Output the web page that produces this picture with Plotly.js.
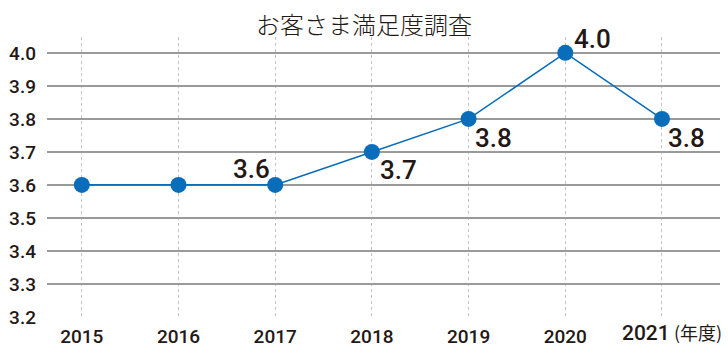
<!DOCTYPE html>
<html>
<head>
<meta charset="utf-8">
<script src="https://cdn.plot.ly/plotly-3.0.1.min.js"></script>
<style>html,body{margin:0;padding:0;background:#fff}#chart{width:728px;height:364px}</style>
</head>
<body>
<div id="chart"></div>
<script>
const years = [2015, 2016, 2017, 2018, 2019, 2020, 2021];
const scores = [3.6, 3.6, 3.6, 3.7, 3.8, 4.0, 3.8];
const labelText = ['', '', '3.6', '3.7', '3.8', '4.0', '3.8'];
const labelShiftX = [0, 0, -24, 27, 25, 27, 25];
const labelShiftY = [0, 0, 16, -18, -19, 14, -19];
const yTicks = [3.2, 3.3, 3.4, 3.5, 3.6, 3.7, 3.8, 3.9, 4.0];
const yTickText = ['3.2', '3.3', '3.4', '3.5', '3.6', '3.7', '3.8', '3.9', '4.0'];
const xTickText = ['2015', '2016', '2017', '2018', '2019', '2020', '2021'];
const unitLabel = '(年度)';
const titleText = 'お客さま満足度調査';

const blue = '#0a6dba';
const ink = '#231815';
const numFont = 'Roboto, "DejaVu Sans Condensed", sans-serif';
const jpFont = '"Noto Sans CJK JP", sans-serif';

const lastIdx = years.length - 1;
const shownTickText = xTickText.map((t, i) => i === lastIdx ? '' : t);

const annotations = [];
years.forEach((yr, i) => {
  if (!labelText[i]) return;
  annotations.push({
    x: yr, y: scores[i], xref: 'x', yref: 'y',
    text: labelText[i], showarrow: false,
    xshift: labelShiftX[i], yshift: labelShiftY[i],
    font: {family: numFont, size: 26, color: ink, weight: 500}
  });
});
// last tick label plus the unit, laid out together as in the reference
annotations.push({
  x: years[lastIdx], y: 3.2, xref: 'x', yref: 'y',
  text: xTickText[lastIdx], showarrow: false, xanchor: 'right', yanchor: 'middle',
  xshift: 10, yshift: -16,
  font: {family: numFont, size: 21, color: ink, weight: 500}
});
annotations.push({
  x: years[lastIdx], y: 3.2, xref: 'x', yref: 'y',
  text: unitLabel, showarrow: false, xanchor: 'left', yanchor: 'middle',
  xshift: 10, yshift: -15,
  font: {family: jpFont, size: 18, color: ink}
});

const trace = {
  x: years, y: scores, type: 'scatter', mode: 'lines+markers',
  line: {color: blue, width: 1.6},
  marker: {color: blue, size: 16},
  cliponaxis: false, hoverinfo: 'skip'
};

const layout = {
  width: 728, height: 364,
  margin: {l: 47, r: 8, t: 37, b: 47},
  paper_bgcolor: '#fff', plot_bgcolor: '#fff',
  showlegend: false,
  title: {text: titleText, x: 0.5, xref: 'container', xanchor: 'center',
    y: 0.93, yref: 'container', yanchor: 'middle',
    font: {family: jpFont, size: 24, color: ink, weight: 300}},
  xaxis: {
    range: [2014.64, 2021.6], tickvals: years, ticktext: shownTickText,
    showgrid: true, gridcolor: '#c4c4c4', griddash: 'dot', gridwidth: 1,
    zeroline: false, showline: false, ticks: '', ticklabelstandoff: 6,
    tickfont: {family: numFont, size: 19, color: ink, weight: 500}
  },
  yaxis: {
    range: [3.2, 4.048], tickvals: yTicks, ticktext: yTickText,
    showgrid: true, gridcolor: '#9a9a9a', gridwidth: 1.6,
    zeroline: false, showline: false, ticks: '', ticklabelstandoff: 10,
    tickfont: {family: numFont, size: 19, color: ink, weight: 500}
  },
  annotations: annotations
};

Plotly.newPlot('chart', [trace], layout, {staticPlot: true, displayModeBar: false});
</script>
</body>
</html>
